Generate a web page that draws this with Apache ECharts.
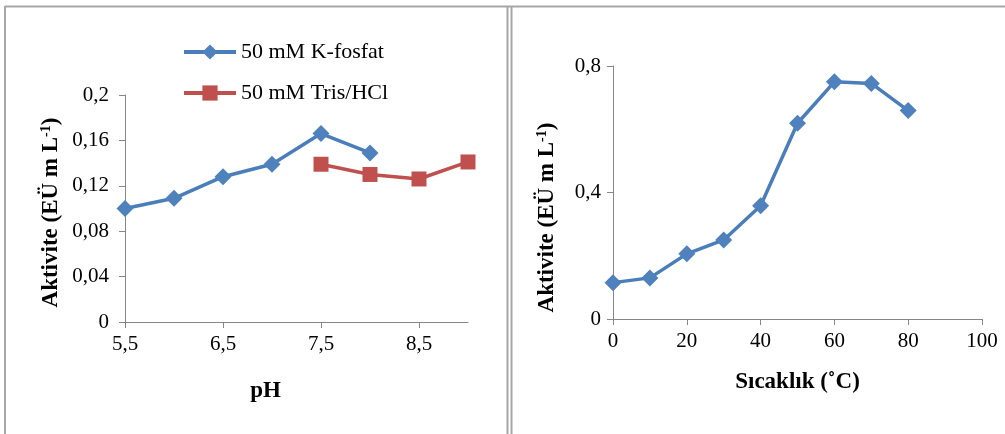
<!DOCTYPE html>
<html>
<head>
<meta charset="utf-8">
<script src="https://cdn.jsdelivr.net/npm/echarts@6/dist/echarts.min.js"></script>
<style>
  html, body { margin: 0; padding: 0; background: #fff; }
  #main { width: 1005px; height: 434px; }
</style>
</head>
<body>
<div id="main"></div>
<script>
// pH grafiği
var phK = [5.5, 6, 6.5, 7, 7.5, 8];
var aktK = [0.100, 0.109, 0.128, 0.139, 0.166, 0.149];
var phTris = [7.5, 8, 8.5, 9];
var aktTris = [0.139, 0.130, 0.126, 0.141];

// sıcaklık grafiği
var sicaklik = [0, 10, 20, 30, 40, 50, 60, 70, 80];
var aktSicaklik = [0.115, 0.130, 0.206, 0.250, 0.358, 0.619, 0.750, 0.745, 0.659];

var seriesNames = ['50 mM K-fosfat', '50 mM Tris/HCl'];

function pairs(xs, ys) {
    return xs.map(function (x, i) { return [x, ys[i]]; });
}
function virgul(v) {
    return String(parseFloat(v.toFixed(3))).replace('.', ',');
}

var font = "'Liberation Serif', 'Times New Roman', serif";
var gri = '#868686';
var mavi = '#4A7EBB';
var kirmizi = '#C0504D';

var myChart = echarts.init(document.getElementById('main'));

function eksen(extra) {
    var base = {
        type: 'value',
        splitLine: { show: false },
        axisLine: { show: true, lineStyle: { color: gri, width: 1 } },
        axisTick: { show: true, length: 6, lineStyle: { color: gri } },
        axisLabel: { color: '#000', fontFamily: font, fontSize: 21, formatter: virgul },
        nameLocation: 'middle',
        nameTextStyle: { color: '#000', fontFamily: font, fontSize: 23, fontWeight: 'bold' }
    };
    return echarts.util.merge(base, extra, true);
}

var supRich = {
    sup: { fontFamily: font, fontSize: 14, fontWeight: 'bold', color: '#000', verticalAlign: 'top', padding: [0, 0, 10, 0] }
};

var option = {
    animation: false,
    backgroundColor: '#fff',
    grid: [
        { left: 125, top: 95, width: 343, height: 227 },
        { left: 613, top: 66, width: 369, height: 253 }
    ],
    legend: {
        orient: 'vertical',
        left: 177,
        top: 36,
        itemWidth: 52,
        itemHeight: 19,
        itemGap: 19,
        data: seriesNames,
        lineStyle: { width: 4 },
        textStyle: { color: '#000', fontFamily: font, fontSize: 22 }
    },
    xAxis: [
        eksen({
            gridIndex: 0, min: 5.5, max: 9, interval: 1,
            axisLabel: { margin: 12, showMaxLabel: false },
            name: 'pH', nameGap: 58,
            nameTextStyle: { padding: [0, 62, 0, 0] }
        }),
        eksen({
            gridIndex: 1, min: 0, max: 100, interval: 20,
            axisLabel: { margin: 12 },
            name: 'Sıcaklık (˚C)', nameGap: 52
        })
    ],
    yAxis: [
        eksen({
            gridIndex: 0, min: 0, max: 0.2, interval: 0.04,
            axisLabel: { margin: 16 },
            name: 'Aktivite (EÜ m L{sup|-1})', nameGap: 62,
            nameTextStyle: { rich: supRich, padding: [0, 8, 0, 0] }
        }),
        eksen({
            gridIndex: 1, min: 0, max: 0.8, interval: 0.4,
            axisLabel: { margin: 12 },
            name: 'Aktivite (EÜ m L{sup|-1})', nameGap: 54,
            nameTextStyle: { rich: supRich, padding: [0, 50, 0, 0] }
        })
    ],
    series: [
        {
            name: seriesNames[0],
            type: 'line',
            xAxisIndex: 0, yAxisIndex: 0,
            data: pairs(phK, aktK),
            symbol: 'diamond', symbolSize: 17,
            lineStyle: { color: mavi, width: 3.5 },
            itemStyle: { color: '#4F81BD' }
        },
        {
            name: seriesNames[1],
            type: 'line',
            xAxisIndex: 0, yAxisIndex: 0,
            data: pairs(phTris, aktTris),
            symbol: 'rect', symbolSize: 15,
            lineStyle: { color: kirmizi, width: 3.5 },
            itemStyle: { color: kirmizi }
        },
        {
            name: 'sicaklik',
            type: 'line',
            xAxisIndex: 1, yAxisIndex: 1,
            data: pairs(sicaklik, aktSicaklik),
            symbol: 'diamond', symbolSize: 17,
            lineStyle: { color: mavi, width: 3.5 },
            itemStyle: { color: '#4F81BD' }
        }
    ],
    graphic: [
        { type: 'line', shape: { x1: 5, y1: 6.5, x2: 1005, y2: 6.5 }, style: { stroke: '#a6a6a6', lineWidth: 2 } },
        { type: 'line', shape: { x1: 5, y1: 6, x2: 5, y2: 434 }, style: { stroke: '#a6a6a6', lineWidth: 2 } },
        { type: 'line', shape: { x1: 507.5, y1: 6, x2: 507.5, y2: 434 }, style: { stroke: '#a6a6a6', lineWidth: 2 } },
        { type: 'line', shape: { x1: 511.5, y1: 6, x2: 511.5, y2: 434 }, style: { stroke: '#a6a6a6', lineWidth: 2 } }
    ]
};

myChart.setOption(option);
</script>
</body>
</html>
